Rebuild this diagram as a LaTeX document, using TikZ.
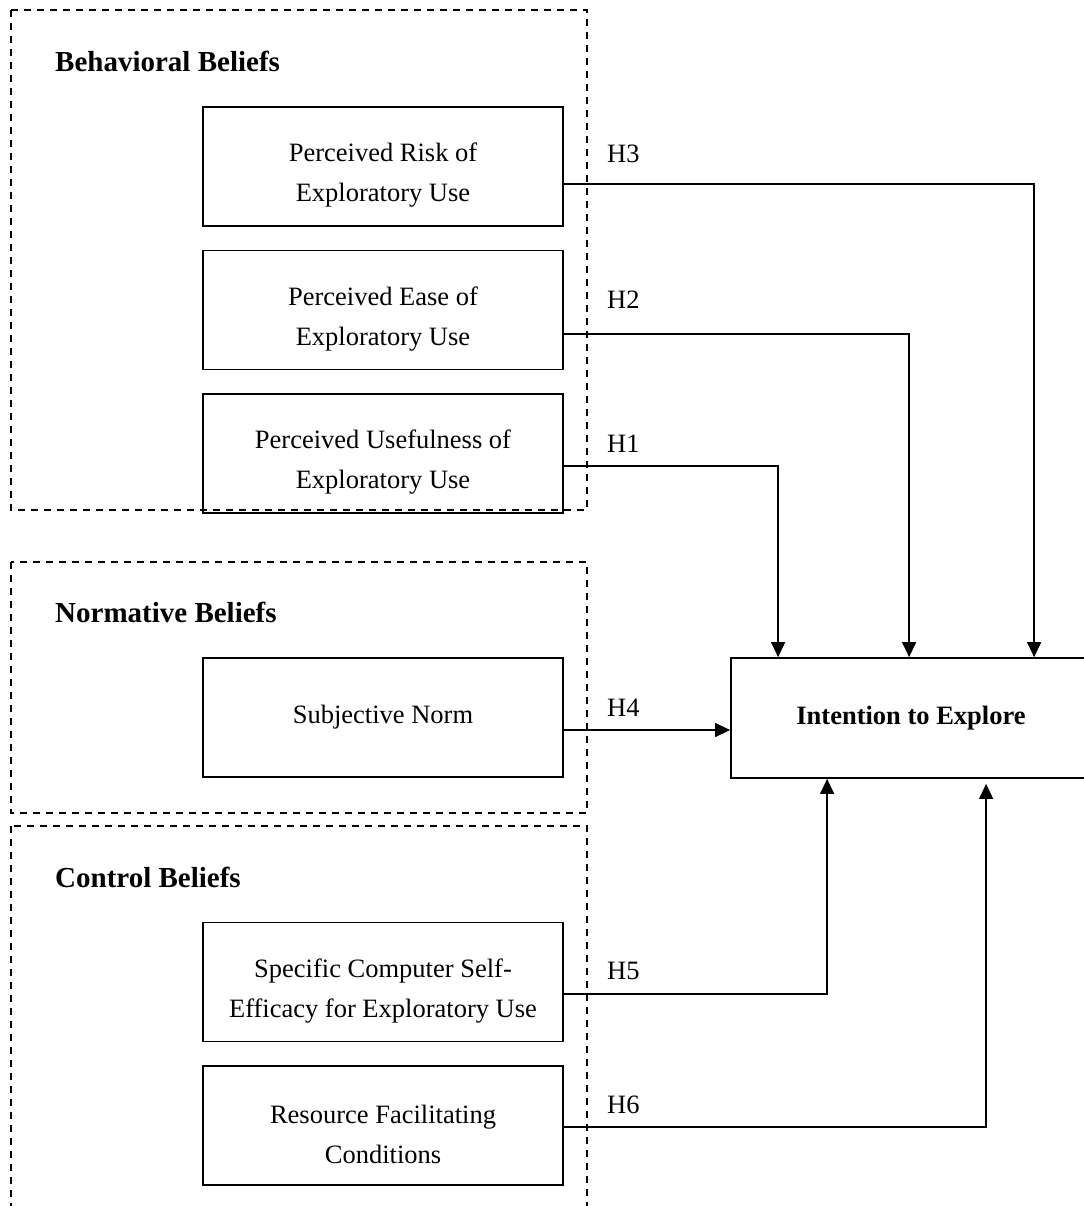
\documentclass[tikz,border=0pt]{standalone}
\usepackage{fontspec}
\setmainfont{Liberation Serif}
\usetikzlibrary{arrows.meta,calc}
% extra room above the first text line, as in the original text boxes
\newcommand\boxstrut{\rule{0pt}{36pt}}
\begin{document}
\begin{tikzpicture}[x=1pt,y=-1pt,
  construct/.style={draw,line width=1.8pt,minimum width=360pt,minimum height=119pt,
    inner sep=0pt,align=center,font=\fontsize{26.5}{40}\selectfont},
  outcome/.style={construct,font=\fontsize{26.5}{32}\selectfont\bfseries},
  group/.style={draw,line width=1.6pt,dash pattern=on 7pt off 6pt},
  grouptitle/.style={anchor=base west,inner sep=0pt,font=\fontsize{29}{35}\selectfont\bfseries},
  link/.style={line width=1.3pt,-{Triangle[length=15pt,width=14pt]}},
  hyp/.style={anchor=base west,inner sep=0pt,font=\fontsize{26.5}{32}\selectfont}]
\useasboundingbox (0,0) rectangle (1083,1206);

% belief groups
\draw[group] (11,10) rectangle (587,510);
\draw[group] (11,562) rectangle (587,813);
\draw[group] (11,826) rectangle (587,1230);
\node[grouptitle] (tbeh) at (55,72) {Behavioral Beliefs};
\node[grouptitle] (tnorm) at (55,622) {Normative Beliefs};
\node[grouptitle] (tctrl) at (55,887) {Control Beliefs};

% constructs
\node[construct] (risk)   at (383,166.5) {\boxstrut Perceived Risk of\\Exploratory Use};
\node[construct] (ease)   at (383,310)   {\boxstrut Perceived Ease of\\Exploratory Use};
\node[construct] (useful) at (383,453.5) {\boxstrut Perceived Usefulness of\\Exploratory Use};
\node[construct] (norm)   at (383,717.5) {Subjective Norm};
\node[construct] (scse)   at (383,982)   {\boxstrut Specific Computer Self-\\Efficacy for Exploratory Use};
\node[construct] (rfc)    at (383,1125.5){\boxstrut Resource Facilitating\\Conditions};
\node[outcome,minimum height=120pt] (intent) at (911,718) {Intention to Explore};

% hypothesised paths
\draw[link] ($(risk.east)+(0,17.5)$) -| ($(intent.north west)+(304,0)$);
\draw[link] ($(ease.east)+(0,24)$) -| ($(intent.north west)+(179,0)$);
\draw[link] ($(useful.east)+(0,12.5)$) -| ($(intent.north west)+(48,0)$);
\draw[link] ($(norm.east)+(0,12.5)$) -- ($(intent.west)+(0,12)$);
\draw[link] ($(scse.east)+(0,12)$) -| ($(intent.south west)+(97,0)$);
\draw[link,shorten >=5pt] ($(rfc.east)+(0,1.5)$) -| ($(intent.south west)+(256,0)$);

\node[hyp] (h3) at (607,163)  {H3};
\node[hyp] (h2) at (607,308)  {H2};
\node[hyp] (h1) at (607,452)  {H1};
\node[hyp] (h4) at (607,716)  {H4};
\node[hyp] (h5) at (607,979)  {H5};
\node[hyp] (h6) at (607,1113) {H6};
\end{tikzpicture}
\end{document}
